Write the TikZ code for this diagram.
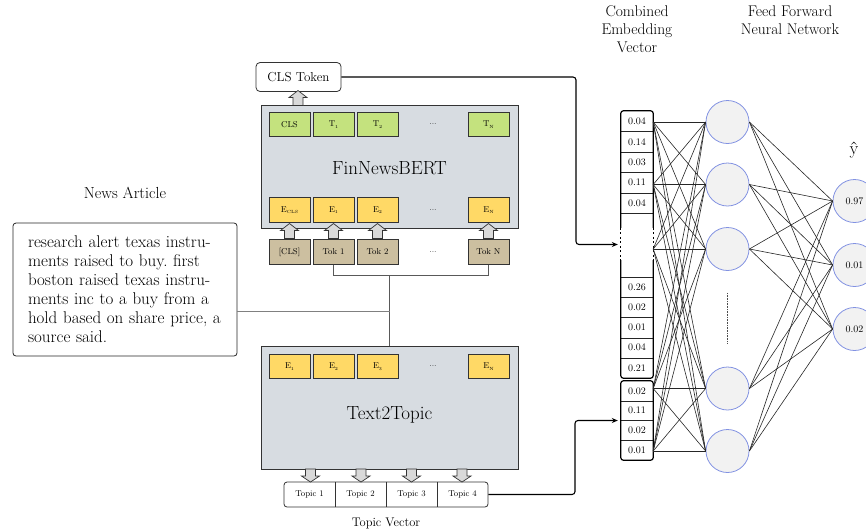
\documentclass[tikz,border=0pt]{standalone}
\usepackage{fontspec}
\usetikzlibrary{calc,arrows.meta}

\definecolor{panel}{HTML}{D7DCE1}
\definecolor{lgreen}{HTML}{C4E27E}
\definecolor{lyellow}{HTML}{FFD966}
\definecolor{ltan}{HTML}{CCBFA0}
\definecolor{nodeblue}{HTML}{8292E2}
\definecolor{nodefill}{HTML}{F2F2F2}
\definecolor{arrowfill}{HTML}{D9D9D9}

\newcommand\fs[2]{\fontsize{#1}{#2}\selectfont}
\newcommand\lowtag[1]{\raisebox{-1.3pt}{\fs{4.5}{5}#1}}
\frenchspacing

\begin{document}
\begin{tikzpicture}[x=1pt,y=-1pt,
  lbl/.style={inner sep=0pt, align=center, font=\fs{15.5}{18}},
  panelbox/.style={draw=black!80, fill=panel, line width=0.8pt, minimum width=257pt, minimum height=123pt, inner sep=0pt},
  cellbase/.style={draw=black!80, line width=0.8pt, minimum width=41pt, minimum height=24.5pt, inner sep=0pt, font=\fs{8.5}{10}},
  gbox/.style={cellbase, fill=lgreen},
  ybox/.style={cellbase, fill=lyellow},
  tbox/.style={cellbase, fill=ltan},
  dotslbl/.style={inner sep=0pt, font=\fs{8.5}{10}},
  fat/.style={draw=black!80, fill=arrowfill, line width=0.7pt, line join=miter},
  link/.style={draw=black!65, line width=0.8pt},
  feed/.style={draw=black, line width=1.1pt, rounded corners=3pt, shorten >=3pt, -{Stealth[length=6pt,width=5pt]}},
  vtext/.style={minimum width=32pt, inner sep=0pt, font=\fs{10}{12}},
  vsep/.style={draw=black!85, line width=0.6pt},
  vborder/.style={draw=black, line width=1.2pt},
  neuron/.style={circle, draw=nodeblue, fill=nodefill, line width=0.8pt, minimum size=43pt, inner sep=0pt, font=\fs{10}{12}},
  wire/.style={draw=black!85, line width=0.6pt},
  fatup/.pic={\path[fat] (-5,7.5) -- (-5,-0.5) -- (-9,-0.5) -- (0,-7.5) -- (9,-0.5) -- (5,-0.5) -- (5,7.5) -- cycle;},
  fatdown/.pic={\path[fat] (-5,-6.5) -- (-5,0.5) -- (-9,0.5) -- (0,6.5) -- (9,0.5) -- (5,0.5) -- (5,-6.5) -- cycle;},
]
\clip (0,0) rectangle (866,531);

% ---------- titles ----------
\node[lbl, anchor=north] (ttlvec) at (637,5.5) {Combined\\Embedding\\Vector};
\node[lbl, anchor=north] (ttlffn) at (790,5.5) {Feed Forward\\Neural Network};
\node[lbl, font=\fs{16}{18}] (ttlnews) at (125,193) {News Article};
\node[lbl, font=\fs{12.5}{15}] (ttltopic) at (386,523) {Topic Vector};
\node[lbl, font=\fs{18}{20}] (yhat) at (854,150) {ŷ};

% ---------- news article ----------
\node[draw=black!85, rounded corners=3pt, line width=0.8pt, text width=194pt, inner xsep=15pt,
      minimum height=133pt, align=left, font=\fs{17}{19}] (article) at (125,289.5)
  {research alert texas instru-\\ments raised to buy. first\\boston raised texas instru-\\ments inc to a buy from a\\hold based on share price, a\\source said.};

% ---------- FinNewsBERT ----------
\node[panelbox] (bert) at (389.5,167) {};
\node[inner sep=0pt, font=\fs{19}{22}] (bertname) at (389.5,168) {FinNewsBERT};

\node[gbox] (tcls) at (289.5,124.5) {CLS};
\node[gbox] (tt1)  at (333.5,124.5) {T\lowtag{1}};
\node[gbox] (tt2)  at (377.5,124.5) {T\lowtag{2}};
\node[dotslbl] (ttd) at (433,124.5) {...};
\node[gbox] (ttn)  at (488.5,124.5) {T\lowtag{N}};

\node[ybox] (ecls) at (289.5,210) {E\lowtag{CLS}};
\node[ybox] (ee1)  at (333.5,210) {E\lowtag{1}};
\node[ybox] (ee2)  at (377.5,210) {E\lowtag{2}};
\node[dotslbl] (eed) at (433,210) {...};
\node[ybox] (een)  at (488.5,210) {E\lowtag{N}};

\node[tbox] (tkcls) at (289.5,252) {[CLS]};
\node[tbox] (tk1)   at (333.5,252) {Tok 1};
\node[tbox] (tk2)   at (377.5,252) {Tok 2};
\node[dotslbl] (tkd) at (433,252) {...};
\node[tbox] (tkn)   at (488.5,252) {Tok N};

\pic at (289.5,231) {fatup};
\pic at (333.5,231) {fatup};
\pic at (377.5,231) {fatup};
\pic at (488.5,231) {fatup};

\node[draw=black!80, rounded corners=4pt, fill=white, line width=0.8pt, minimum width=85pt,
      minimum height=29pt, inner sep=0pt, font=\fs{13}{15}] (clstok) at (298.5,77) {CLS Token};
\pic at (298,98) {fatup};

% ---------- Text2Topic ----------
\node[panelbox] (t2t) at (389.5,407.5) {};
\node[inner sep=0pt, font=\fs{19}{22}] (t2tname) at (389.5,415) {Text2Topic};

\node[ybox] (te1) at (289.5,366.5) {E\lowtag{1}};
\node[ybox] (te2) at (333.5,366.5) {E\lowtag{2}};
\node[ybox] (te3) at (377.5,366.5) {E\lowtag{3}};
\node[dotslbl] (ted) at (433,366.5) {...};
\node[ybox] (ten) at (488.5,366.5) {E\lowtag{N}};

% topic vector
\node[draw=black!80, rounded corners=3pt, line width=0.8pt, minimum width=204pt, minimum height=25pt, inner sep=0pt] (tvec) at (386,494.5) {};
\node[inner sep=0pt, minimum width=51pt, minimum height=25pt, font=\fs{8.5}{10}] (tp1) at (309.5,494.5) {Topic 1};
\node[inner sep=0pt, minimum width=51pt, minimum height=25pt, font=\fs{8.5}{10}] (tp2) at (360.5,494.5) {Topic 2};
\node[inner sep=0pt, minimum width=51pt, minimum height=25pt, font=\fs{8.5}{10}] (tp3) at (411.5,494.5) {Topic 3};
\node[inner sep=0pt, minimum width=51pt, minimum height=25pt, font=\fs{8.5}{10}] (tp4) at (462.5,494.5) {Topic 4};
\draw[draw=black!80, line width=0.8pt] (tp1.north east) -- (tp1.south east);
\draw[draw=black!80, line width=0.8pt] (tp2.north east) -- (tp2.south east);
\draw[draw=black!80, line width=0.8pt] (tp3.north east) -- (tp3.south east);

\pic at (310.5,475.5) {fatdown};
\pic at (361,475.5) {fatdown};
\pic at (411.5,475.5) {fatdown};
\pic at (462,475.5) {fatdown};

% ---------- token / article links ----------
\coordinate (brk) at (389.5,275);
\coordinate (join) at (389.5,311);
\draw[link] (tk1.south) -- (tk1.south |- brk) -- (tkn.south |- brk) -- (tkn.south);
\draw[link] (brk) -- (t2t.north);
\draw[link, draw=black!50] (article.east |- join) -- (join);

% ---------- combined embedding vector ----------
\node[minimum width=32pt, minimum height=267pt, inner sep=0pt] (vecA) at (637,244.5) {};
\node[minimum width=32pt, minimum height=79pt, inner sep=0pt] (vecB) at (637,420.5) {};

\node[vtext, minimum height=20.5pt] (ca1) at (637,121.25) {0.04};
\node[vtext, minimum height=20.5pt] (ca2) at (637,141.75) {0.14};
\node[vtext, minimum height=20.5pt] (ca3) at (637,162.25) {0.03};
\node[vtext, minimum height=20.5pt] (ca4) at (637,182.75) {0.11};
\node[vtext, minimum height=20.5pt] (ca5) at (637,203.25) {0.04};
\node[vtext, minimum height=20.2pt] (ca6) at (637,287.1) {0.26};
\node[vtext, minimum height=20.2pt] (ca7) at (637,307.3) {0.02};
\node[vtext, minimum height=20.2pt] (ca8) at (637,327.5) {0.01};
\node[vtext, minimum height=20.2pt] (ca9) at (637,347.7) {0.04};
\node[vtext, minimum height=20.2pt] (ca10) at (637,367.9) {0.21};

\node[vtext, minimum height=19.75pt] (cb1) at (637,390.9) {0.02};
\node[vtext, minimum height=19.75pt] (cb2) at (637,410.6) {0.11};
\node[vtext, minimum height=19.75pt] (cb3) at (637,430.4) {0.02};
\node[vtext, minimum height=19.75pt] (cb4) at (637,450.1) {0.01};

\foreach \c in {ca1,ca2,ca3,ca4,ca5,ca6,ca7,ca8,ca9,cb1,cb2,cb3}
  \draw[vsep] (\c.south west) -- (\c.south east);
\draw[vsep] (ca6.north west) -- (ca6.north east);

\draw[vborder, rounded corners=2.5pt] ($(vecA.north west)+(0,117)$) -- (vecA.north west) -- (vecA.north east) -- ($(vecA.north east)+(0,117)$);
\draw[vborder, rounded corners=2.5pt] ($(vecA.south west)+(0,-118)$) -- (vecA.south west) -- (vecA.south east) -- ($(vecA.south east)+(0,-118)$);
\draw[vborder, dash pattern=on 2pt off 2.5pt] ($(vecA.north west)+(0,117)$) -- ($(vecA.south west)+(0,-118)$);
\draw[vborder, dash pattern=on 2pt off 2.5pt] ($(vecA.north east)+(0,117)$) -- ($(vecA.south east)+(0,-118)$);
\draw[vborder, rounded corners=2.5pt] (vecB.north west) rectangle (vecB.south east);

% ---------- feeds into the vector ----------
\coordinate (bendA) at (576,160);
\coordinate (bendB) at (575,460);
\draw[feed] (clstok.east) -| (bendA) |- (vecA.west);
\draw[feed] (tvec.east) -| (bendB) |- (vecB.west);

% ---------- feed forward network ----------
\node[neuron] (h1) at (727.5,122) {};
\node[neuron] (h2) at (727.5,184.5) {};
\node[neuron] (h3) at (727.5,249) {};
\node[neuron] (h4) at (727.5,388.5) {};
\node[neuron] (h5) at (727.5,451) {};
\draw[black!70, line width=0.6pt, densely dotted] ($(h3.south)+(0,22)$) -- ($(h4.north)+(0,-24)$);

\node[neuron] (o1) at (854.5,201) {0.97};
\node[neuron] (o2) at (854.5,265) {0.01};
\node[neuron] (o3) at (854.5,329) {0.02};

\coordinate (in1) at (vecA.east |- h1);
\coordinate (in2) at (vecA.east |- h2);
\coordinate (in3) at (vecA.east |- h3);
\coordinate (in4) at (vecB.east |- h4);
\coordinate (in5) at (vecB.east |- h5);

\foreach \i in {1,...,5}
  \foreach \j in {1,...,5}
    \draw[wire] (in\i) -- (h\j.west);
\foreach \j in {1,...,5}
  \foreach \k in {1,2,3}
    \draw[wire] (h\j.east) -- (o\k.west);
\end{tikzpicture}
\end{document}
